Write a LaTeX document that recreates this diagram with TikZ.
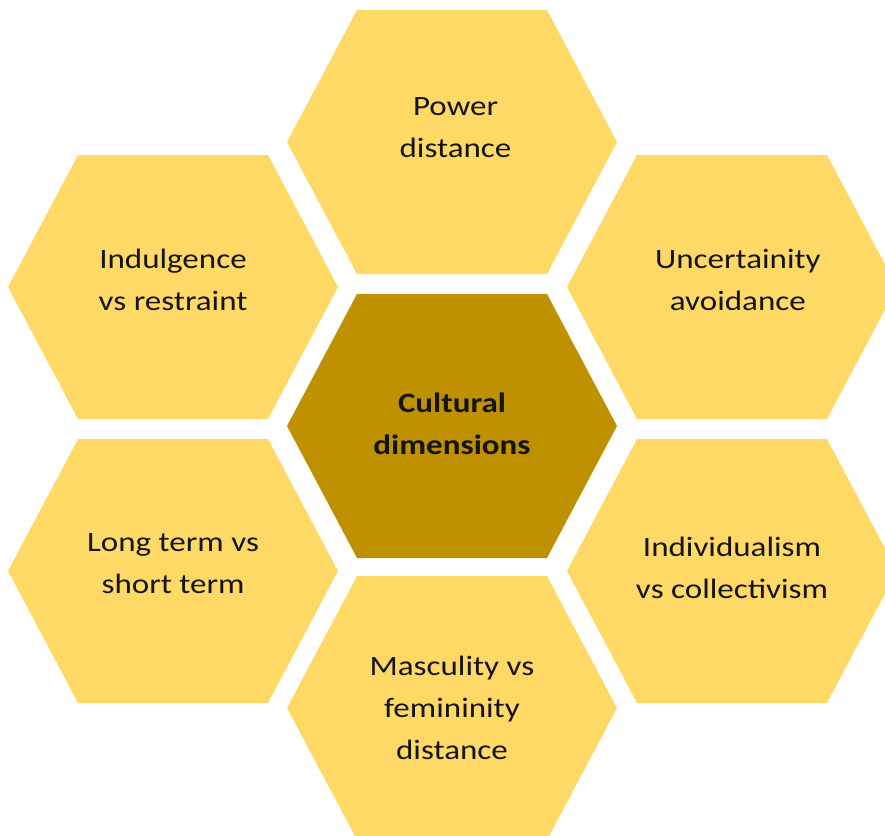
\documentclass[tikz,border=0pt]{standalone}
\usepackage{fontspec}
\setmainfont{Carlito}[FakeStretch=1.18]
\usepackage{tikz}

\definecolor{honey}{HTML}{FFD966}
\definecolor{amber}{HTML}{BF9000}
\definecolor{ink}{HTML}{141414}

\tikzset{
    cell/.style={fill=honey},
    core/.style={fill=amber},
    celltext/.style={align=center, text=ink, yshift=6,
        font=\fontsize{23.9}{35.9}\selectfont},
}

\begin{document}
\begin{tikzpicture}[x=0.03cm, y=-0.03cm]
            \useasboundingbox (0, 0) rectangle (885, 836);
            \coordinate (power) at (452, 142);
            \coordinate (cult) at (452, 426);
            \coordinate (uncert) at (732, 287);
            \coordinate (indulg) at (173, 287);
            \coordinate (indiv) at (732, 571);
            \coordinate (longterm) at (173, 571);
            \coordinate (masc) at (452, 708);
            \foreach \c in {power, uncert, indulg, indiv, longterm, masc}
                \fill[cell, shift={(\c)}] (-165, 0) -- (-95, 132) -- (95, 132) -- (165, 0) -- (95, -132) -- (-95, -132) -- cycle;
            \fill[core, shift={(cult)}] (-165, 0) -- (-95, 132) -- (95, 132) -- (165, 0) -- (95, -132) -- (-95, -132) -- cycle;
            \node[celltext, yshift=6, xshift=3] (powertext) at (power) {Power\\distance};
            \node[celltext, yshift=-4, font=\fontsize{23.9}{35.9}\selectfont\bfseries] (culttext) at (cult) {Cultural\\dimensions};
            \node[celltext, xshift=5] (uncerttext) at (uncert) {Uncertainity\\avoidance};
            \node[celltext] (indulgtext) at (indulg) {Indulgence\\vs restraint};
            \node[celltext, yshift=-3] (indivtext) at (indiv) {Individualism\\vs collectivism};
            \node[celltext] (longtermtext) at (longterm) {Long term vs\\short term};
            \node[celltext, yshift=-6] (masctext) at (masc) {Masculity vs\\femininity\\distance};
        \end{tikzpicture}
\end{document}
